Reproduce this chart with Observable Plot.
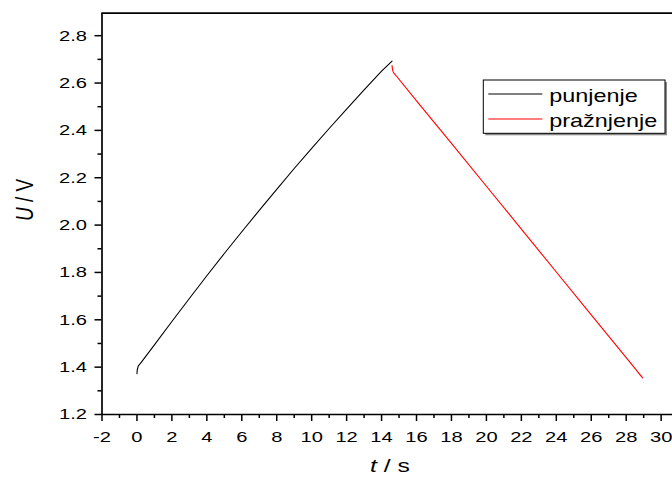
<!DOCTYPE html>
<html>
<head>
<meta charset="utf-8">
<script src="https://cdn.jsdelivr.net/npm/d3@7"></script>
<script src="https://cdn.jsdelivr.net/npm/@observablehq/plot@0.6"></script>
<style>
  body { margin: 0; background: #fff; }
  #chart { width: 672px; height: 478px; }
</style>
</head>
<body>
<div id="chart"></div>
<script>
// ---- data ----
const seriesNames = ["punjenje", "pražnjenje"];
const seriesColors = ["#000000", "#ff0000"];

const chargeT = [0, 0.02, 0.08, 0.2, 1, 2, 3, 4, 5, 6, 7, 8, 9, 10, 11, 12, 13, 14, 14.6];
const chargeU = [1.372, 1.390, 1.405, 1.416, 1.494, 1.593, 1.690, 1.786, 1.880, 1.972, 2.062, 2.151, 2.239, 2.324, 2.408, 2.490, 2.571, 2.650, 2.693];

const dischargeT = [14.6, 14.62, 14.66, 14.72, 14.8, 16, 18, 20, 22, 24, 26, 28, 28.94];
const dischargeU = [2.674, 2.660, 2.648, 2.640, 2.634, 2.525, 2.345, 2.164, 1.983, 1.802, 1.621, 1.440, 1.355];

const xTicks = [-2, 0, 2, 4, 6, 8, 10, 12, 14, 16, 18, 20, 22, 24, 26, 28, 30];
const xMinor = [-1, 1, 3, 5, 7, 9, 11, 13, 15, 17, 19, 21, 23, 25, 27, 29];
const yTicks = [1.2, 1.4, 1.6, 1.8, 2.0, 2.2, 2.4, 2.6, 2.8];
const yMinor = [1.3, 1.5, 1.7, 1.9, 2.1, 2.3, 2.5, 2.7];
const xDomain = [-2, 30.65];
const yDomain = [1.2, 2.895];

const xTitle = ["t", " / s"];
const yTitle = ["U", " / V"];

// ---- table for the library ----
const rows = [
  ...chargeT.map((t, i) => ({t, U: chargeU[i], series: seriesNames[0]})),
  ...dischargeT.map((t, i) => ({t, U: dischargeU[i], series: seriesNames[1]}))
];

const FONT = "'Liberation Sans', Arial, Helvetica, sans-serif";
const STRETCH = 1.3;

const chart = Plot.plot({
  width: 672,
  height: 478,
  marginLeft: 101.5,
  marginRight: 0,
  marginTop: 12.7,
  marginBottom: 64,
  style: {fontFamily: FONT, fontSize: "15.5px", color: "#000", background: "#fff", overflow: "visible"},
  x: {domain: xDomain},
  y: {domain: yDomain},
  color: {domain: seriesNames, range: seriesColors},
  marks: [
    Plot.axisX({ticks: xMinor, tickSize: 4, fill: "none", strokeWidth: 1.5, label: null}),
    Plot.axisX({ticks: xTicks, tickSize: 7, tickPadding: 9, strokeWidth: 1.5, tickFormat: d => String(d), label: null}),
    Plot.axisY({ticks: yMinor, tickSize: 4, fill: "none", strokeWidth: 1.5, label: null}),
    Plot.axisY({ticks: yTicks, tickSize: 7, tickPadding: 8, strokeWidth: 1.5, tickFormat: d => d.toFixed(1), label: null}),
    Plot.line(rows, {x: "t", y: "U", z: "series", stroke: "series", strokeWidth: 1.1, curve: "linear"}),
    Plot.ruleX([xDomain[0]], {stroke: "#000", strokeWidth: 1.7}),
    Plot.ruleY([yDomain[0]], {stroke: "#000", strokeWidth: 1.7}),
    Plot.ruleY([yDomain[1]], {stroke: "#000", strokeWidth: 1.7})
  ]
});

// stretch tick labels horizontally like the reference
d3.select(chart).selectAll("text").each(function () {
  const el = this;
  const fs = 15.5;
  const parse = v => {
    if (v == null) return 0;
    const n = parseFloat(v);
    if (isNaN(n)) return 0;
    return /em$/.test(v) ? n * fs : n;
  };
  const px = parse(el.getAttribute("x")) + parse(el.getAttribute("dx"));
  const t = el.getAttribute("transform") || "";
  el.setAttribute("transform", `${t} translate(${px},0) scale(${STRETCH},1) translate(${-px},0)`);
});

const svg = d3.select(chart);

// axis titles
const xt = svg.append("text")
  .attr("transform", `translate(390,472) scale(${STRETCH},1)`)
  .attr("text-anchor", "middle")
  .attr("font-family", FONT)
  .attr("font-size", 19)
  .attr("fill", "#000");
xt.append("tspan").attr("font-style", "italic").text(xTitle[0]);
xt.append("tspan").text(xTitle[1]);

const yt = svg.append("text")
  .attr("transform", `translate(33.3,200) rotate(-90) scale(1,${STRETCH})`)
  .attr("text-anchor", "middle")
  .attr("font-family", FONT)
  .attr("font-size", 19)
  .attr("fill", "#000");
yt.append("tspan").attr("font-style", "italic").text(yTitle[0]);
yt.append("tspan").text(yTitle[1]);

// legend
const lg = svg.append("g");
lg.append("rect").attr("x", 485.3).attr("y", 82).attr("width", 181.7).attr("height", 53.3).attr("fill", "#8a8a8a");
lg.append("rect").attr("x", 483.3).attr("y", 80).attr("width", 181.7).attr("height", 53.3)
  .attr("fill", "#fff").attr("stroke", "#000").attr("stroke-width", 1);
seriesNames.forEach((name, i) => {
  const ly = 94 + i * 25;
  lg.append("line").attr("x1", 488.3).attr("x2", 542.3).attr("y1", ly).attr("y2", ly)
    .attr("stroke", seriesColors[i]).attr("stroke-width", 1.1);
  lg.append("text")
    .attr("transform", `translate(549.3,${102.3 + i * 25}) scale(${STRETCH},1)`)
    .attr("text-anchor", "start")
    .attr("font-family", FONT).attr("font-size", 18).attr("fill", "#000")
    .text(name);
});

document.getElementById("chart").appendChild(chart);
</script>
</body>
</html>
